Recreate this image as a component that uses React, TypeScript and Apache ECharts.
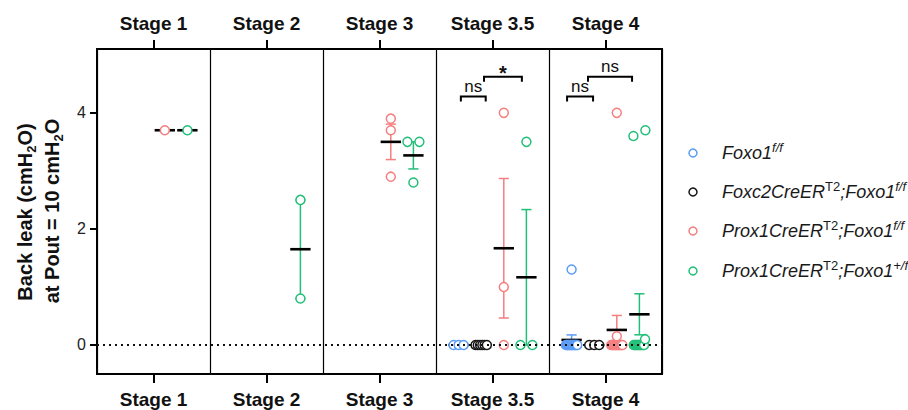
import React, { useEffect, useRef } from "react";
import * as echarts from "echarts";

const FONT = "'Liberation Sans', Arial, Helvetica, sans-serif";

// ---------- data ----------
const stages = ["Stage 1", "Stage 2", "Stage 3", "Stage 3.5", "Stage 4"];
const yTicks = [0, 2, 4];

// values per stage (same order as `stages`)
const foxo1FF: number[][] = [
  [],
  [],
  [],
  [0, 0, 0],
  [1.3, 0, 0, 0, 0, 0, 0, 0, 0, 0, 0, 0, 0, 0, 0],
];
const foxc2Foxo1FF: number[][] = [[], [], [], [0, 0, 0, 0, 0, 0], [0, 0, 0]];
const prox1Foxo1FF: number[][] = [
  [3.7],
  [],
  [3.9, 3.7, 2.9],
  [4.0, 1.0, 0],
  [4.0, 0.15, 0, 0, 0, 0, 0, 0, 0, 0, 0, 0, 0, 0, 0, 0],
];
const prox1Foxo1HF: number[][] = [
  [3.7],
  [2.5, 0.8],
  [3.5, 3.5, 2.8],
  [3.5, 0, 0],
  [3.7, 3.6, 0.1, 0, 0, 0, 0, 0, 0, 0, 0, 0, 0, 0],
];

const groupNames = [
  "Foxo1 f/f",
  "Foxc2CreERT2;Foxo1 f/f",
  "Prox1CreERT2;Foxo1 f/f",
  "Prox1CreERT2;Foxo1 +/f",
];
const legendTexts = [
  "{i|Foxo1}{si|f/f}",
  "{i|Foxc2CreER}{s|T2}{i|;Foxo1}{si|f/f}",
  "{i|Prox1CreER}{s|T2}{i|;Foxo1}{si|f/f}",
  "{i|Prox1CreER}{s|T2}{i|;Foxo1}{si|+/f}",
];

// significance annotations
const bracketStage = [3, 3, 4, 4];
const bracketFrom = [-0.28, -0.075, -0.34, -0.155];
const bracketTo = [-0.06, 0.26, -0.11, 0.235];
const bracketLevel = [4.28, 4.62, 4.28, 4.62];
const bracketText = ["ns", "*", "ns", "ns"];

// ---------- styles / layout ----------
const groupData = [foxo1FF, foxc2Foxo1FF, prox1Foxo1FF, prox1Foxo1HF];
const groupColors = ["#5b9cf5", "#151515", "#f47f80", "#21bf78"];
const groupOffsets = [-0.3, -0.1, 0.1, 0.3];

function layoutPoints(vals: number[], stageIdx: number, gIdx: number) {
  const sorted = [...vals].sort((a, b) => a - b);
  const clusters: number[][] = [];
  sorted.forEach((v) => {
    const last = clusters[clusters.length - 1];
    if (last && v - last[last.length - 1] < 0.13) last.push(v);
    else clusters.push([v]);
  });
  const pts: number[][] = [];
  clusters.forEach((c) => {
    const m = c.length;
    const step = m === 1 ? 0 : m === 2 ? 0.106 : Math.min(0.044, 0.1 / (m - 1));
    c.forEach((v, k) => {
      pts.push([stageIdx + groupOffsets[gIdx] + (k - (m - 1) / 2) * step, v]);
    });
  });
  return pts;
}

function meanSem(vals: number[]) {
  const n = vals.length;
  const mean = vals.reduce((a, b) => a + b, 0) / n;
  if (n < 2) return { mean, sem: 0 };
  const ss = vals.reduce((a, b) => a + (b - mean) * (b - mean), 0);
  const sd = Math.sqrt(ss / (n - 1));
  return { mean, sem: sd / Math.sqrt(n) };
}

export default function App() {
  const ref = useRef<HTMLDivElement>(null);

  useEffect(() => {
    if (!ref.current) return;
    const chart = echarts.init(ref.current, null, { renderer: "svg" });

    const series: any[] = [];

    groupData.forEach((gd, g) => {
      const color = groupColors[g];
      const summary: number[][] = [];
      gd.forEach((vals, s) => {
        if (!vals.length) return;
        const { mean, sem } = meanSem(vals);
        summary.push([s + groupOffsets[g], mean, mean - sem, mean + sem, vals.length]);
      });
      const ms: any = {
        type: "custom",
        name: groupNames[g] + " mean",
        xAxisIndex: 2,
        yAxisIndex: 0,
        z: 2,
        silent: true,
        data: summary,
        renderItem: (params: any, api: any) => {
          const x = api.value(0);
          const mean = api.value(1);
          const lo = api.value(2);
          const hi = api.value(3);
          const n = api.value(4);
          const unit = api.size([1, 0])[0];
          const pm = api.coord([x, mean]);
          const pl = api.coord([x, lo]);
          const ph = api.coord([x, hi]);
          const capW = unit * 0.045;
          const meanW = unit * 0.09;
          const children: any[] = [];
          if (n > 1 && hi - lo > 1e-9) {
            const st = { stroke: color, lineWidth: 1.5 };
            children.push({ type: "line", shape: { x1: pl[0], y1: pl[1], x2: ph[0], y2: ph[1] }, style: st });
            children.push({ type: "line", shape: { x1: ph[0] - capW, y1: ph[1], x2: ph[0] + capW, y2: ph[1] }, style: st });
            children.push({ type: "line", shape: { x1: pl[0] - capW, y1: pl[1], x2: pl[0] + capW, y2: pl[1] }, style: st });
          }
          children.push({
            type: "line",
            shape: { x1: pm[0] - meanW, y1: pm[1], x2: pm[0] + meanW, y2: pm[1] },
            style: { stroke: "#000", lineWidth: 2.6 },
          });
          return { type: "group", children };
        },
      };
      if (g === 0) {
        ms.markLine = {
          silent: true,
          symbol: ["none", "none"],
          label: { show: false },
          lineStyle: { color: "#111", width: 2, type: [2, 4] },
          data: [{ yAxis: 0 }],
          animation: false,
        };
      }
      series.push(ms);
    });

    groupData.forEach((gd, g) => {
      const pts: number[][] = [];
      gd.forEach((vals, s) => {
        if (vals.length) pts.push(...layoutPoints(vals, s, g));
      });
      series.push({
        type: "scatter",
        name: groupNames[g],
        xAxisIndex: 2,
        yAxisIndex: 0,
        z: 3,
        symbol: "circle",
        symbolSize: 9,
        itemStyle: { color: "#ffffff", borderColor: groupColors[g], borderWidth: 1.5, opacity: 1 },
        data: pts,
      });
    });

    // significance brackets
    const bData = bracketStage.map((s, i) => [s + bracketFrom[i], s + bracketTo[i], bracketLevel[i], i]);
    series.push({
      type: "custom",
      name: "significance",
      xAxisIndex: 2,
      yAxisIndex: 0,
      z: 4,
      silent: true,
      data: bData,
      renderItem: (params: any, api: any) => {
        const p1 = api.coord([api.value(0), api.value(2)]);
        const p2 = api.coord([api.value(1), api.value(2)]);
        const idx = api.value(3);
        const label = bracketText[idx];
        const star = label === "*";
        return {
          type: "group",
          children: [
            {
              type: "polyline",
              shape: { points: [[p1[0], p1[1] + 5], [p1[0], p1[1]], [p2[0], p2[1]], [p2[0], p2[1] + 5]] },
              style: { stroke: "#000", lineWidth: 2, fill: "none" },
            },
            {
              type: "text",
              x: (p1[0] + p2[0]) / 2,
              y: star ? p1[1] + 6 : p1[1] - 2,
              style: {
                text: label,
                align: "center",
                verticalAlign: "bottom",
                fontFamily: FONT,
                fontSize: star ? 20 : 17,
                fontWeight: star ? "bold" : "normal",
                fill: "#111",
              },
            },
          ],
        };
      },
    });

    const catAxisCommon = {
      type: "category",
      data: stages,
      boundaryGap: true,
      axisLine: { show: true, onZero: false, lineStyle: { color: "#000", width: 2 } },
      axisTick: { show: true, alignWithLabel: true, length: 9, lineStyle: { color: "#000", width: 2 } },
      axisLabel: {
        show: true,
        interval: 0,
        margin: 16,
        fontFamily: FONT,
        fontSize: 19,
        fontWeight: "bold",
        color: "#111",
      },
    };

    const legendGraphics: any[] = [];
    const legendY = [153, 192, 231, 271];
    const richBase = { fontFamily: FONT, fill: "#1a1a1a" };
    legendTexts.forEach((t, i) => {
      legendGraphics.push({
        type: "circle",
        shape: { cx: 693, cy: legendY[i], r: 4 },
        style: { fill: "#fff", stroke: groupColors[i], lineWidth: 1.5 },
      });
      legendGraphics.push({
        type: "text",
        x: 722,
        y: legendY[i],
        style: {
          text: t,
          align: "left",
          verticalAlign: "middle",
          rich: {
            i: { ...richBase, fontSize: 18, fontStyle: "italic", lineHeight: 24 },
            s: { ...richBase, fontSize: 13, fontStyle: "normal", lineHeight: 14, verticalAlign: "top" },
            si: { ...richBase, fontSize: 13, fontStyle: "italic", lineHeight: 14, verticalAlign: "top" },
          },
        },
      });
    });

    const titleRich = {
      b: { fontFamily: FONT, fontSize: 20, fontWeight: "bold", fill: "#111", lineHeight: 26 },
      sub: { fontFamily: FONT, fontSize: 13, fontWeight: "bold", fill: "#111", lineHeight: 13, verticalAlign: "bottom" },
    };

    const option: any = {
      animation: false,
      backgroundColor: "#ffffff",
      grid: {
        left: 97,
        right: 246,
        top: 49,
        bottom: 36,
        show: true,
        borderColor: "#000",
        borderWidth: 2,
        backgroundColor: "transparent",
      },
      xAxis: [
        {
          ...catAxisCommon,
          position: "bottom",
          splitLine: { show: true, interval: 0, lineStyle: { color: "#000", width: 1.2 } },
        },
        {
          ...catAxisCommon,
          position: "top",
          splitLine: { show: false },
        },
        {
          type: "value",
          min: -0.5,
          max: 4.5,
          show: false,
          axisLine: { onZero: false },
          splitLine: { show: false },
        },
      ],
      yAxis: [
        {
          type: "value",
          min: -0.5,
          max: 5.1,
          axisLine: { show: true, onZero: false, lineStyle: { color: "#000", width: 2 } },
          axisTick: { show: true, length: 7, customValues: yTicks, lineStyle: { color: "#000", width: 2 } },
          axisLabel: {
            show: true,
            customValues: yTicks,
            margin: 11,
            fontFamily: FONT,
            fontSize: 16,
            color: "#222",
          },
          splitLine: { show: false },
        },
      ],
      graphic: [
        {
          type: "text",
          x: 25,
          y: 212,
          rotation: Math.PI / 2,
          style: {
            text: "{b|Back leak (cmH}{sub|2}{b|O)}",
            align: "center",
            verticalAlign: "middle",
            rich: titleRich,
          },
        },
        {
          type: "text",
          x: 52,
          y: 211,
          rotation: Math.PI / 2,
          style: {
            text: "{b|at Pout = 10 cmH}{sub|2}{b|O}",
            align: "center",
            verticalAlign: "middle",
            rich: titleRich,
          },
        },
        ...legendGraphics,
      ],
      series,
    };

    chart.setOption(option);
    return () => chart.dispose();
  }, []);

  return <div ref={ref} style={{ width: 908, height: 410, position: "absolute", left: 0, top: 0 }} />;
}
